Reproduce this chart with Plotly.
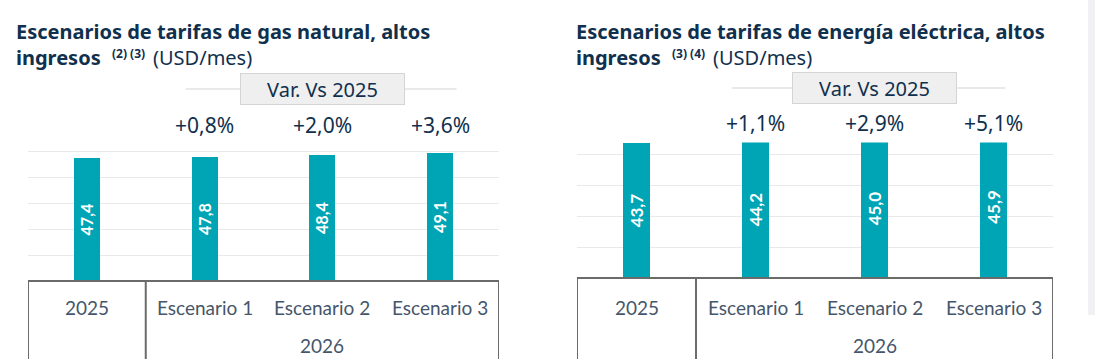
import plotly.graph_objects as go

categories = ["2025", "Escenario 1", "Escenario 2", "Escenario 3"]
group_label = "2026"
gas_values = [47.4, 47.8, 48.4, 49.1]
gas_var = ["+0,8%", "+2,0%", "+3,6%"]
elec_values = [43.7, 44.2, 45.0, 45.9]
elec_var = ["+1,1%", "+2,9%", "+5,1%"]
gas_title = "Escenarios de tarifas de gas natural, altos"
elec_title = "Escenarios de tarifas de energía eléctrica, altos"
title_line2 = "ingresos"
gas_notes = "(2) (3)"
elec_notes = "(3) (4)"
unit_label = "(USD/mes)"
var_label = "Var. Vs 2025"

W, H = 1095, 359
BAR = "#00A5B5"
NAVY = "#10304d"
GRAY_TXT = "#46566a"
LINE = "#6b6b6b"

def fmt(v):
    return f"{v:.1f}".replace(".", ",")

fig = go.Figure()

panels = [
    dict(vals=gas_values, var=gas_var, title=gas_title, notes=gas_notes, xa="x", ya="y",
         xdom=[28 / W, 499 / W], ydom=[(H - 281) / H, (H - 125) / H], ymax=60,
         title_x=15, box_y=(H - 89) / H, line=(0.84, 3.14)),
    dict(vals=elec_values, var=elec_var, title=elec_title, notes=elec_notes, xa="x2", ya="y2",
         xdom=[577 / W, 1053 / W], ydom=[(H - 278) / H, (H - 123) / H], ymax=50,
         title_x=575, box_y=(H - 88) / H, line=(0.80, 3.10)),
]

shapes = []
annotations = []
for i, p in enumerate(panels):
    xs = list(range(len(categories)))
    fig.add_trace(go.Bar(
        x=xs, y=p["vals"], xaxis=p["xa"], yaxis=p["ya"],
        marker=dict(color=BAR, line=dict(width=0)), width=0.22,
        text=[fmt(v) for v in p["vals"]], textposition="inside",
        insidetextanchor="middle", textangle=-90,
        textfont=dict(family="Lato", size=17, color="white", weight="bold"),
        hoverinfo="skip", showlegend=False,
    ))
    sfx = "" if i == 0 else "2"
    fig.layout["xaxis" + sfx] = dict(domain=p["xdom"], range=[-0.5, 3.5], showticklabels=False,
                                      showgrid=False, zeroline=False, anchor="y" + sfx, fixedrange=True)
    fig.layout["yaxis" + sfx] = dict(domain=p["ydom"], range=[0, p["ymax"]], dtick=10, showticklabels=False,
                                      showgrid=True, gridcolor="#e9e9e9", gridwidth=1, zeroline=False,
                                      anchor="x" + sfx, fixedrange=True)
    xr = p["xa"]
    yr = p["ya"]
    base = p["ydom"][0]
    # table
    shapes.append(dict(type="line", xref=xr, yref="paper", x0=-0.5, x1=3.5, y0=base, y1=base,
                       line=dict(color=LINE, width=2)))
    for xv in (-0.5, 0.5, 3.5):
        shapes.append(dict(type="line", xref=xr, yref="paper", x0=xv, x1=xv, y0=base, y1=-0.05,
                           line=dict(color=LINE, width=2)))
    # category labels
    for j, c in enumerate(categories):
        annotations.append(dict(x=j, y=(H - 307) / H, xref=xr, yref="paper", text=c, showarrow=False,
                                font=dict(family="Lato", size=19, color=GRAY_TXT), yanchor="middle"))
    annotations.append(dict(x=2, y=(H - 345) / H, xref=xr, yref="paper", text=group_label, showarrow=False,
                            font=dict(family="Lato", size=19, color=GRAY_TXT), yanchor="middle"))
    # variation labels
    for j, t in enumerate(p["var"]):
        annotations.append(dict(x=j + 1, y=p["ymax"], xref=xr, yref=yr, text=t, showarrow=False,
                                bgcolor="white", borderpad=5,
                                font=dict(family="Noto Sans", size=21, color=NAVY), yanchor="middle"))
    # var box
    shapes.append(dict(type="line", xref=xr, yref="paper", x0=p["line"][0], x1=p["line"][1],
                       y0=p["box_y"], y1=p["box_y"], line=dict(color="#e2e2e2", width=1.5)))
    annotations.append(dict(x=2, y=p["box_y"], xref=xr, yref="paper", text=var_label, showarrow=False,
                            bgcolor="#efefef", bordercolor="#d4d4d4", borderwidth=1, width=161, height=28,
                            font=dict(family="Noto Sans", size=20, color=NAVY), yanchor="middle"))
    # title, line 1
    tx = p["title_x"]
    annotations.append(dict(x=tx / W, y=(H - 31) / H, xref="paper", yref="paper", text="<b>" + p["title"] + "</b>",
                            showarrow=False, xanchor="left", yanchor="middle", borderpad=0,
                            font=dict(family="Noto Sans", size=20, color=NAVY)))
    # title, line 2
    annotations.append(dict(x=tx / W, y=(H - 57) / H, xref="paper", yref="paper", text="<b>" + title_line2 + "</b>",
                            showarrow=False, xanchor="left", yanchor="middle", borderpad=0,
                            font=dict(family="Noto Sans", size=20, color=NAVY)))
    annotations.append(dict(x=(tx + 96) / W, y=(H - 53) / H, xref="paper", yref="paper", text="<b>" + p["notes"] + "</b>",
                            showarrow=False, xanchor="left", yanchor="middle", borderpad=0,
                            font=dict(family="Noto Sans", size=12, color=NAVY)))
    annotations.append(dict(x=(tx + 137) / W, y=(H - 57) / H, xref="paper", yref="paper", text=unit_label,
                            showarrow=False, xanchor="left", yanchor="middle", borderpad=0,
                            font=dict(family="Noto Sans", size=20, color=NAVY)))

# light panel edge at right
shapes.append(dict(type="rect", xref="paper", yref="paper", x0=1088 / W, x1=1.01, y0=(H - 315) / H, y1=1.01,
                   fillcolor="#f1f1f3", line=dict(width=0), layer="above"))

fig.update_layout(width=W, height=H, margin=dict(l=0, r=0, t=0, b=0), paper_bgcolor="white",
                  plot_bgcolor="white", shapes=shapes, annotations=annotations, bargap=0)
fig.write_html("out.html", config={"displayModeBar": False},
               post_script="document.body.style.margin='0';document.body.style.overflow='hidden';")
